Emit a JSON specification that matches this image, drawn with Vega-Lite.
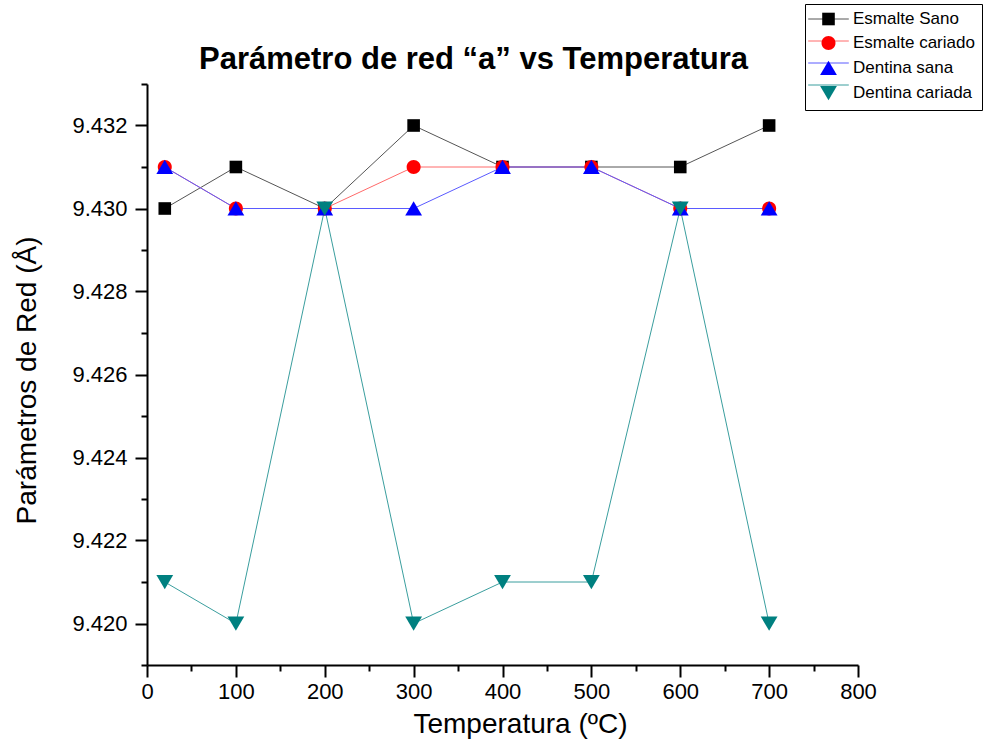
{
  "$schema": "https://vega.github.io/schema/vega-lite/v6.json",
  "autosize": {"type": "none"},
  "padding": {"left": 147, "top": 84, "right": 125, "bottom": 80},
  "width": 711,
  "height": 581,
  "background": "white",
  "config": {
    "font": "Liberation Sans",
    "view": {"stroke": null}
  },
  "title": {
    "text": "Parámetro de red “a” vs Temperatura",
    "fontSize": 31,
    "fontWeight": "bold",
    "font": "Liberation Sans",
    "color": "black",
    "anchor": "middle",
    "frame": "group",
    "baseline": "alphabetic",
    "offset": 14,
    "dx": -29,
    "dy": 110
  },
  "data": {
    "values": [
      {"T": 20, "v": 9.430, "s": "Esmalte Sano"},
      {"T": 100, "v": 9.431, "s": "Esmalte Sano"},
      {"T": 200, "v": 9.430, "s": "Esmalte Sano"},
      {"T": 300, "v": 9.432, "s": "Esmalte Sano"},
      {"T": 400, "v": 9.431, "s": "Esmalte Sano"},
      {"T": 500, "v": 9.431, "s": "Esmalte Sano"},
      {"T": 600, "v": 9.431, "s": "Esmalte Sano"},
      {"T": 700, "v": 9.432, "s": "Esmalte Sano"},
      {"T": 20, "v": 9.431, "s": "Esmalte cariado"},
      {"T": 100, "v": 9.430, "s": "Esmalte cariado"},
      {"T": 200, "v": 9.430, "s": "Esmalte cariado"},
      {"T": 300, "v": 9.431, "s": "Esmalte cariado"},
      {"T": 400, "v": 9.431, "s": "Esmalte cariado"},
      {"T": 500, "v": 9.431, "s": "Esmalte cariado"},
      {"T": 600, "v": 9.430, "s": "Esmalte cariado"},
      {"T": 700, "v": 9.430, "s": "Esmalte cariado"},
      {"T": 20, "v": 9.431, "s": "Dentina sana"},
      {"T": 100, "v": 9.430, "s": "Dentina sana"},
      {"T": 200, "v": 9.430, "s": "Dentina sana"},
      {"T": 300, "v": 9.430, "s": "Dentina sana"},
      {"T": 400, "v": 9.431, "s": "Dentina sana"},
      {"T": 500, "v": 9.431, "s": "Dentina sana"},
      {"T": 600, "v": 9.430, "s": "Dentina sana"},
      {"T": 700, "v": 9.430, "s": "Dentina sana"},
      {"T": 20, "v": 9.421, "s": "Dentina cariada"},
      {"T": 100, "v": 9.420, "s": "Dentina cariada"},
      {"T": 200, "v": 9.430, "s": "Dentina cariada"},
      {"T": 300, "v": 9.420, "s": "Dentina cariada"},
      {"T": 400, "v": 9.421, "s": "Dentina cariada"},
      {"T": 500, "v": 9.421, "s": "Dentina cariada"},
      {"T": 600, "v": 9.430, "s": "Dentina cariada"},
      {"T": 700, "v": 9.420, "s": "Dentina cariada"}
    ]
  },
  "encoding": {
    "x": {
      "field": "T",
      "type": "quantitative",
      "scale": {"domain": [0, 800], "nice": false, "zero": false},
      "axis": {
        "title": "Temperatura (ºC)",
        "values": [0, 50, 100, 150, 200, 250, 300, 350, 400, 450, 500, 550, 600, 650, 700, 750, 800],
        "labelExpr": "datum.value % 100 === 0 ? format(datum.value, 'd') : ''",
        "grid": false,
        "domainColor": "black",
        "domainWidth": 2,
        "tickColor": "black",
        "tickWidth": 2,
        "tickSize": {"condition": {"test": "datum.value % 100 === 0", "value": 12}, "value": 6},
        "labelFontSize": 22,
        "labelColor": "black",
        "labelPadding": 4,
        "labelFlush": false,
        "labelOverlap": false,
        "titleFontSize": 28,
        "titleFontWeight": "normal",
        "titleColor": "black",
        "titleX": 373,
        "titleY": 67,
        "titleAlign": "center",
        "titleBaseline": "alphabetic"
      }
    },
    "y": {
      "field": "v",
      "type": "quantitative",
      "scale": {"domain": [9.419, 9.433], "nice": false, "zero": false},
      "axis": {
        "title": "Parámetros de Red (Å)",
        "values": [9.419, 9.420, 9.421, 9.422, 9.423, 9.424, 9.425, 9.426, 9.427, 9.428, 9.429, 9.430, 9.431, 9.432, 9.433],
        "labelExpr": "round(datum.value * 1000) % 2 === 0 ? format(datum.value, '.3f') : ''",
        "grid": false,
        "domainColor": "black",
        "domainWidth": 2,
        "tickColor": "black",
        "tickWidth": 2,
        "tickSize": {"condition": {"test": "round(datum.value * 1000) % 2 === 0", "value": 12}, "value": 6},
        "labelFontSize": 22,
        "labelColor": "black",
        "labelPadding": 8,
        "labelFlush": false,
        "labelOverlap": false,
        "titleFontSize": 28,
        "titleFontWeight": "normal",
        "titleColor": "black",
        "titleX": -112,
        "titleY": 296,
        "titleAlign": "center",
        "titleBaseline": "alphabetic",
        "titleAngle": -90
      }
    }
  },
  "layer": [
    {
      "mark": {"type": "line", "strokeWidth": 1},
      "encoding": {
        "stroke": {
          "field": "s",
          "type": "nominal",
          "scale": {
            "domain": ["Esmalte Sano", "Esmalte cariado", "Dentina sana", "Dentina cariada", "-"],
            "range": ["#555555", "#ff6a6a", "#5a5aff", "#3a9e9e", "#ffffff"]
          },
          "legend": {
            "title": null,
            "values": ["Esmalte Sano", "Esmalte cariado", "Dentina sana", "Dentina cariada"],
            "orient": "none",
            "legendX": 658,
            "legendY": -80,
            "padding": 6.5,
            "symbolOffset": 8.5,
            "labelOffset": 16,
            "rowPadding": 4,
            "labelFontSize": 17,
            "labelColor": "rgba(0,0,0,0)",
            "symbolType": "M-2.9,0H2.9",
            "symbolSize": 196,
            "symbolStrokeWidth": 1
          }
        }
      }
    },
    {
      "mark": {"type": "point", "filled": true, "opacity": 1, "size": 196},
      "encoding": {
        "fill": {
          "field": "s",
          "type": "nominal",
          "scale": {
            "domain": ["Esmalte Sano", "Esmalte cariado", "Dentina sana", "Dentina cariada"],
            "range": ["#000000", "#ff0000", "#0000ff", "#008080"]
          },
          "legend": {
            "title": null,
            "orient": "none",
            "legendX": 658,
            "legendY": -80,
            "padding": 6.5,
            "strokeColor": "black",
            "symbolOffset": 8.5,
            "labelOffset": 16,
            "rowPadding": 4,
            "labelFontSize": 17,
            "labelColor": "black",
            "symbolSize": 196,
            "symbolOpacity": 1
          }
        },
        "shape": {
          "field": "s",
          "type": "nominal",
          "scale": {
            "domain": ["Esmalte Sano", "Esmalte cariado", "Dentina sana", "Dentina cariada"],
            "range": ["M-0.9,-0.9H0.9V0.9H-0.9Z", "M1,0A1,1,0,1,1,-1,0A1,1,0,1,1,1,0Z", "M0,-1.05L1.2,1L-1.2,1Z", "M0,1.05L1.2,-1L-1.2,-1Z"]
          }
        }
      }
    }
  ]
}
